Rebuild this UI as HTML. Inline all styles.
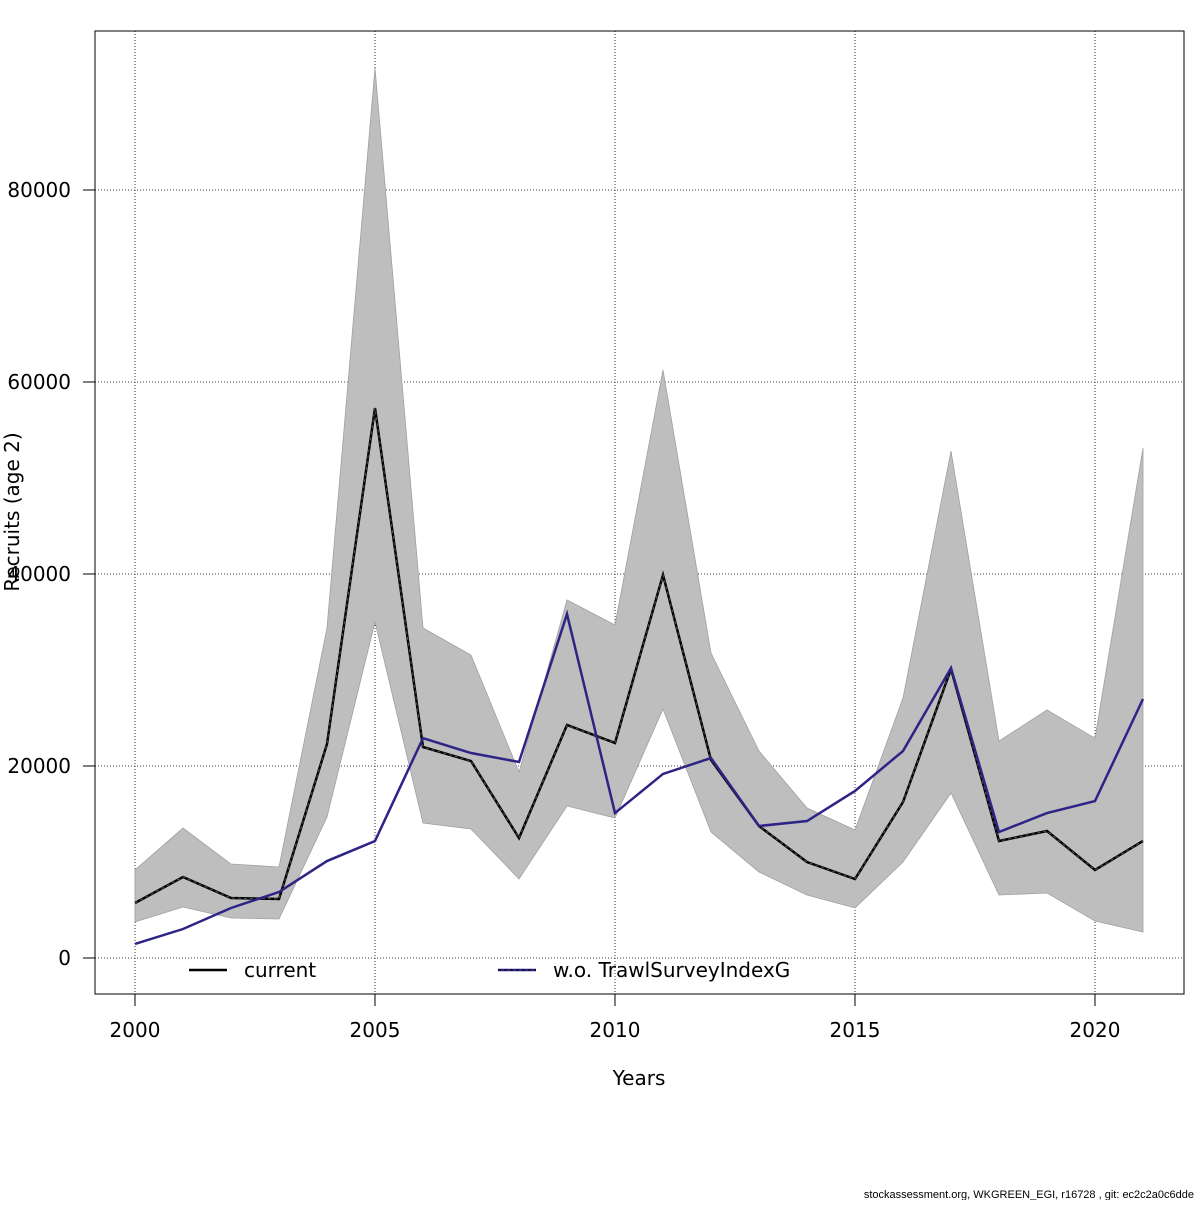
<!DOCTYPE html>
<html><head><meta charset="utf-8"><style>
body{margin:0;background:#fff;}
svg text{font-family:"DejaVu Sans","Liberation Sans",sans-serif;}
</style></head><body>
<svg id="chart" width="1200" height="1200" xmlns="http://www.w3.org/2000/svg">
<g id="grid"></g>
<g id="band"></g>
<g id="lines"></g>
<rect x="95" y="31" width="1089" height="963" fill="none" stroke="#000" stroke-width="1"/>
<g id="xaxis"></g>
<g id="yaxis"></g>
<text x="639" y="1085" font-size="20" text-anchor="middle">Years</text>
<text transform="translate(19,512) rotate(-90)" font-size="20" text-anchor="middle">Recruits (age 2)</text>
<g>
<g>
<line x1="189" y1="970" x2="227" y2="970" stroke="#000" stroke-width="2.5"/>
<text x="244" y="977" font-size="20">current</text></g>
<g>
<line x1="498" y1="970" x2="536" y2="970" stroke="#2d2485" stroke-width="2.5"/>
<line x1="498" y1="970" x2="536" y2="970" stroke="#000" stroke-width="1" stroke-dasharray="3,3"/>
<text x="553" y="977" font-size="20">w.o. TrawlSurveyIndexG</text></g>
</g>
<text x="1194" y="1198" font-size="11" text-anchor="end" style="font-family:'Liberation Sans',sans-serif">stockassessment.org, WKGREEN_EGI, r16728 , git: ec2c2a0c6dde</text>
</svg>
<script>
const years=[2000,2001,2002,2003,2004,2005,2006,2007,2008,2009,2010,2011,2012,2013,2014,2015,2016,2017,2018,2019,2020,2021];
const current=[5730,8440,6250,6150,22290,57290,21980,20520,12500,24270,22400,39900,20630,13750,10000,8230,16250,30100,12190,13230,9170,12190];
const upper=[9170,13540,9790,9480,34375,92700,34375,31560,19375,37290,34690,61250,31770,21560,15625,13330,27080,52810,22600,25830,22900,53125];
const lower=[3750,5310,4170,4060,14690,35000,14060,13440,8230,15830,14580,25940,13125,8960,6560,5210,10000,17190,6560,6770,3850,2710];
const woTrawl=[1460,3020,5210,6875,10100,12190,22900,21350,20420,35830,15100,19170,20830,13750,14270,17400,21560,30200,13125,15100,16350,26980];
const xTicks=[2000,2005,2010,2015,2020];
const yTicks=[0,20000,40000,60000,80000];
const yTickLabels=["0","20000","40000","60000","80000"];
const X=v=>135+(v-2000)*48;
const Y=v=>958-v*0.0096;
const NS="http://www.w3.org/2000/svg";
function mk(parent,tag,attrs){const e=document.createElementNS(NS,tag);for(const k in attrs)e.setAttribute(k,attrs[k]);document.getElementById(parent).appendChild(e);return e;}
xTicks.forEach(t=>{
 const g=mk('grid','line',{x1:X(t),x2:X(t),y1:31,y2:994,stroke:'#000','stroke-width':0.8,'stroke-dasharray':'1,2'});
 
 
 const tk=mk('xaxis','line',{x1:X(t),x2:X(t),y1:994,y2:1006,stroke:'#000'});
 
 
 const l=mk('xaxis','text',{x:X(t),y:1037,'font-size':20,'text-anchor':'middle'});l.textContent=t;
 
 
});
yTicks.forEach((t,i)=>{
 const g=mk('grid','line',{x1:95,x2:1184,y1:Y(t),y2:Y(t),stroke:'#000','stroke-width':0.8,'stroke-dasharray':'1,2'});
 
 
 const tk=mk('yaxis','line',{x1:83,x2:95,y1:Y(t),y2:Y(t),stroke:'#000'});
 
 
 const l=mk('yaxis','text',{x:71,y:Y(t)+7,'font-size':20,'text-anchor':'end'});l.textContent=yTickLabels[i];
 
 
});
let pts=years.map((y,i)=>X(y)+','+Y(upper[i]));
for(let i=years.length-1;i>=0;i--)pts.push(X(years[i])+','+Y(lower[i]));
const poly=mk('band','polygon',{points:pts.join(' '),fill:'#bebebe',stroke:'#a0a0a0','stroke-width':0.8});


const cp=years.map((y,i)=>X(y)+','+Y(current[i])).join(' ');
const l1=mk('lines','polyline',{points:cp,fill:'none',stroke:'#000','stroke-width':2.5});


const wp=years.map((y,i)=>X(y)+','+Y(woTrawl[i])).join(' ');
const l3=mk('lines','polyline',{points:cp,fill:'none',stroke:'#555','stroke-width':1,'stroke-dasharray':'3,3'});


const l2=mk('lines','polyline',{points:wp,fill:'none',stroke:'#2d2485','stroke-width':2.5});


</script>
</body></html>
